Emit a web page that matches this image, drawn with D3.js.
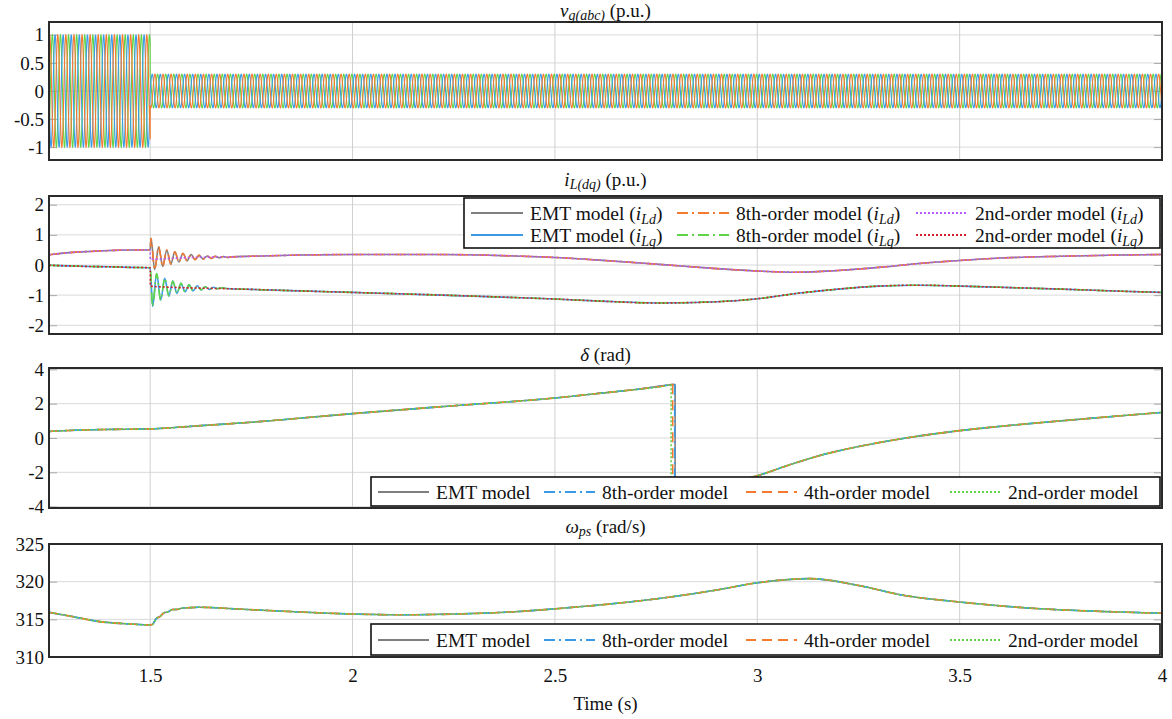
<!DOCTYPE html>
<html><head><meta charset="utf-8">
<script src="https://cdn.jsdelivr.net/npm/d3@7"></script>
<style>body{margin:0;background:#fff} svg text{font-family:'Liberation Serif','Noto Serif','FreeSerif','Nimbus Roman','Times New Roman','DejaVu Serif',serif;fill:#111}</style>
</head><body><svg id="c" width="1172" height="719"></svg>
<script>
// ---------------- DATA ----------------
const timeDomain = [1.25, 4];
const xTicks = [1.5, 2, 2.5, 3, 3.5, 4];
const xTickLabels = ["1.5", "2", "2.5", "3", "3.5", "4"];

// Panel 1: three-phase grid voltage (read amplitude per segment, grid frequency)
const vgFreqHz = 50;
const vgSegStart = [1.25, 1.5];
const vgSegEnd = [1.5, 4];
const vgSegAmp = [1.0, 0.3];
const vgPhaseDeg = [120, 0, -120];
const vgTicks = [-1, -0.5, 0, 0.5, 1];
const vgTickLabels = ["-1", "-0.5", "0", "0.5", "1"];

// Panel 2: dq currents
const iTicks = [-2, -1, 0, 1, 2];
const iTickLabels = ["-2", "-1", "0", "1", "2"];
const iLdPreT = [1.25, 1.3, 1.35, 1.4, 1.45, 1.5];
const iLdPreV = [0.34, 0.41, 0.45, 0.48, 0.5, 0.5];
const iLqPreV = [-0.01, -0.03, -0.05, -0.06, -0.08, -0.09];
const iLdEmtOscT = [1.502, 1.511, 1.521, 1.531, 1.541, 1.551, 1.561, 1.571, 1.581, 1.591, 1.601, 1.611, 1.621, 1.631, 1.641, 1.651, 1.661, 1.671, 1.681, 1.691, 1.70];
const iLdEmtOscV = [0.89, -0.15, 0.6, -0.05, 0.5, 0.03, 0.44, 0.1, 0.39, 0.14, 0.35, 0.18, 0.32, 0.2, 0.3, 0.22, 0.29, 0.24, 0.28, 0.25, 0.27];
const iLqEmtOscT = [1.506, 1.516, 1.526, 1.536, 1.546, 1.556, 1.566, 1.576, 1.586, 1.596, 1.606, 1.616, 1.626, 1.636, 1.646, 1.656, 1.666, 1.676, 1.69];
const iLqEmtOscV = [-1.37, -0.28, -1.17, -0.44, -1.03, -0.53, -0.94, -0.61, -0.89, -0.66, -0.86, -0.69, -0.83, -0.72, -0.81, -0.74, -0.79, -0.76, -0.78];
const iL2ndStepT = [1.5005, 1.55, 1.6, 1.7];
const iLd2ndStepV = [0.19, 0.22, 0.25, 0.27];
const iLq2ndStepV = [-0.7, -0.74, -0.76, -0.79];
const iLPostT = [1.75, 1.87, 2.0, 2.2, 2.4, 2.5, 2.6, 2.75, 2.9, 3.0, 3.1, 3.2, 3.3, 3.4, 3.5, 3.6, 3.75, 3.9, 4.0];
const iLdPostV = [0.29, 0.33, 0.35, 0.35, 0.3, 0.25, 0.17, 0.03, -0.12, -0.2, -0.24, -0.18, -0.08, 0.05, 0.15, 0.23, 0.29, 0.33, 0.35];
const iLqPostV = [-0.81, -0.86, -0.91, -0.99, -1.08, -1.13, -1.19, -1.26, -1.22, -1.12, -0.94, -0.8, -0.7, -0.67, -0.7, -0.74, -0.8, -0.87, -0.91];

// Panel 3: delta
const dTicks = [-4, -2, 0, 2, 4];
const dTickLabels = ["-4", "-2", "0", "2", "4"];
const deltaPreT = [1.25, 1.3, 1.4, 1.5, 1.6, 1.75, 2.0, 2.25, 2.5, 2.6, 2.7, 2.78];
const deltaPreV = [0.38, 0.44, 0.5, 0.53, 0.68, 0.92, 1.42, 1.88, 2.33, 2.58, 2.83, 3.08];
const deltaWrapTop = 3.13, deltaWrapBottom = -3.15;
const deltaPostT = [2.8, 2.9, 3.0, 3.075, 3.15, 3.25, 3.36, 3.5, 3.6, 3.75, 3.9, 4.0];
const deltaPostV = [-3.1, -2.7, -2.2, -1.6, -1.05, -0.5, -0.03, 0.43, 0.68, 1.0, 1.3, 1.49];
const deltaWrapT = { emt: 2.797, o8: 2.796, o4: 2.791, o2: 2.787 };

// Panel 4: omega
const wTicks = [310, 315, 320, 325];
const wTickLabels = ["310", "315", "320", "325"];
const omegaT = [1.25, 1.3, 1.375, 1.45, 1.5, 1.505, 1.515, 1.525, 1.535, 1.545, 1.555, 1.565, 1.58, 1.6, 1.62, 1.73, 1.9, 2.0, 2.12, 2.25, 2.4, 2.5, 2.61, 2.79, 2.9, 3.0, 3.13, 3.25, 3.36, 3.5, 3.7, 3.88, 4.0];
const omegaV = [315.93, 315.45, 314.7, 314.38, 314.25, 314.3, 315.1, 315.4, 315.9, 316.0, 316.3, 316.3, 316.5, 316.55, 316.6, 316.33, 315.9, 315.7, 315.6, 315.7, 316.0, 316.4, 316.9, 318.0, 318.9, 319.85, 320.4, 319.5, 318.2, 317.3, 316.4, 316.0, 315.8];

// ---------------- STYLE ----------------
const C = { gray: "#7f7f7f", blue: "#3a9ae6", orange: "#f47a2f", green: "#5fd448", purple: "#b45cf5", red: "#d3202a" };
const DASHDOT = "11,4,2,4", DASHED = "10,6", DOTTED = "2,2";
const SERIF = "'Liberation Serif','Noto Serif','FreeSerif','Nimbus Roman','Times New Roman','DejaVu Serif',serif";
const TICK_FONT = 19, TITLE_FONT = 19, LEG_FONT = 19.5, SUB_FONT = 14;

const svg = d3.select("#c");
const x = d3.scaleLinear().domain(timeDomain).range([49, 1162]);

function zip(ts, vs) { return ts.map((t, i) => [t, vs[i]]); }

function makePanel(id, top, bottom, domain, ticks, labels) {
  const y = d3.scaleLinear().domain(domain).range([bottom, top]);
  const g = svg.append("g");
  g.append("g").selectAll("line").data(ticks.filter(v => y(v) > top + 1 && y(v) < bottom - 1)).join("line")
    .attr("x1", x.range()[0]).attr("x2", x.range()[1]).attr("y1", d => y(d)).attr("y2", d => y(d))
    .attr("stroke", "#dadada").attr("stroke-width", 1);
  g.append("g").selectAll("line").data(xTicks.filter(v => v < timeDomain[1])).join("line")
    .attr("x1", d => x(d)).attr("x2", d => x(d)).attr("y1", top).attr("y2", bottom)
    .attr("stroke", "#d0d0d0").attr("stroke-width", 1);
  const tl = g.append("g").attr("transform", `translate(${x.range()[0]},0)`)
    .call(d3.axisRight(y).tickValues(ticks).tickSize(8).tickFormat(""));
  tl.select(".domain").remove(); tl.selectAll("line").attr("stroke", "#aaa");
  const tr = g.append("g").attr("transform", `translate(${x.range()[1]},0)`)
    .call(d3.axisLeft(y).tickValues(ticks).tickSize(8).tickFormat(""));
  tr.select(".domain").remove(); tr.selectAll("line").attr("stroke", "#aaa");
  const la = g.append("g").attr("transform", `translate(${x.range()[0]},0)`)
    .call(d3.axisLeft(y).tickValues(ticks).tickSize(0).tickPadding(5).tickFormat((d, i) => labels[i]));
  la.attr("font-family", SERIF);
  la.select(".domain").remove();
  la.selectAll("text").attr("font-size", TICK_FONT).attr("fill", "#111");
  svg.append("clipPath").attr("id", "clip" + id).append("rect")
    .attr("x", x.range()[0]).attr("y", top).attr("width", x.range()[1] - x.range()[0]).attr("height", bottom - top);
  const plot = svg.append("g").attr("clip-path", `url(#clip${id})`);
  const frame = () => svg.append("rect").attr("x", x.range()[0]).attr("y", top)
    .attr("width", x.range()[1] - x.range()[0]).attr("height", bottom - top)
    .attr("fill", "none").attr("stroke", "#2a2a2a").attr("stroke-width", 2);
  return { y, plot, top, bottom, frame };
}

function drawLine(P, pts, color, dash, width, curve) {
  const line = d3.line().x(d => x(d[0])).y(d => P.y(d[1])).curve(curve || d3.curveMonotoneX);
  P.plot.append("path").attr("d", line(pts)).attr("fill", "none").attr("stroke", color)
    .attr("stroke-width", width || 1.5).attr("stroke-dasharray", dash || null);
}

function title(cx, yb, html) {
  svg.append("text").attr("x", cx).attr("y", yb).attr("text-anchor", "middle").attr("font-size", TITLE_FONT).html(html);
}
const cx = (x.range()[0] + x.range()[1]) / 2;
const subT = s => `<tspan font-style="italic" font-size="${SUB_FONT}" dy="3">${s}</tspan>`;

// ---------- Panel 1 ----------
const P1 = makePanel(1, 22, 160, [-1.23, 1.23], vgTicks, vgTickLabels);
const vgColors = [C.green, C.blue, C.orange];
vgPhaseDeg.forEach((ph, k) => {
  const pts = [];
  vgSegStart.forEach((s, j) => {
    for (let t = s; t <= vgSegEnd[j] + 1e-9; t += 0.0004) {
      pts.push([t, vgSegAmp[j] * Math.sin(2 * Math.PI * vgFreqHz * t + ph * Math.PI / 180)]);
    }
  });
  drawLine(P1, pts, vgColors[k], null, 1.1, d3.curveLinear);
});
P1.frame();
title(cx, 17, '<tspan font-style="italic">v</tspan>' + subT("g(abc)") + '<tspan dy="-3"> (p.u.)</tspan>');

// ---------- Panel 2 ----------
const P2 = makePanel(2, 196, 334, [-2.29, 2.29], iTicks, iTickLabels);
const iLdPre = zip(iLdPreT, iLdPreV), iLqPre = zip(iLdPreT, iLqPreV);
const iLdEmt = iLdPre.concat(zip(iLdEmtOscT, iLdEmtOscV), zip(iLPostT, iLdPostV));
const iLqEmt = iLqPre.concat(zip(iLqEmtOscT, iLqEmtOscV), zip(iLPostT, iLqPostV));
const iLd2 = iLdPre.concat(zip(iL2ndStepT, iLd2ndStepV), zip(iLPostT, iLdPostV));
const iLq2 = iLqPre.concat(zip(iL2ndStepT, iLq2ndStepV), zip(iLPostT, iLqPostV));
drawLine(P2, iLdEmt, C.gray, null, 1.6);
drawLine(P2, iLqEmt, C.blue, null, 1.6);
drawLine(P2, iLdEmt, C.orange, DASHDOT, 1.6);
drawLine(P2, iLqEmt, C.green, DASHDOT, 1.6);
drawLine(P2, iLd2, C.purple, DOTTED, 1.6);
drawLine(P2, iLq2, C.red, DOTTED, 1.6);
P2.frame();
title(cx, 186, '<tspan font-style="italic">i</tspan>' + subT("L(dq)") + '<tspan dy="-3"> (p.u.)</tspan>');

// ---------- Panel 3 ----------
const P3 = makePanel(3, 368, 508, [-4.08, 4.08], dTicks, dTickLabels);
function drawDelta(wt, color, dash) {
  drawLine(P3, zip(deltaPreT, deltaPreV).concat([[wt, deltaWrapTop]]), color, dash, 1.6);
  drawLine(P3, [[wt, deltaWrapTop], [wt, deltaWrapBottom]], color, dash, 1.6, d3.curveLinear);
  drawLine(P3, [[wt, deltaWrapBottom]].concat(zip(deltaPostT, deltaPostV)), color, dash, 1.6);
}
drawDelta(deltaWrapT.emt, C.gray, null);
drawDelta(deltaWrapT.o8, C.blue, DASHDOT);
drawDelta(deltaWrapT.o4, C.orange, DASHED);
drawDelta(deltaWrapT.o2, C.green, DOTTED);
P3.frame();
title(cx, 361, '<tspan font-style="italic">δ</tspan> (rad)');

// ---------- Panel 4 ----------
const P4 = makePanel(4, 544, 657, [310, 325], wTicks, wTickLabels);
const omega = zip(omegaT, omegaV);
drawLine(P4, omega, C.gray, null, 1.6);
drawLine(P4, omega, C.blue, DASHDOT, 1.6);
drawLine(P4, omega, C.orange, DASHED, 1.6);
drawLine(P4, omega, C.green, DOTTED, 1.6);
P4.frame();
title(cx, 533, '<tspan font-style="italic">ω</tspan>' + subT("ps") + '<tspan dy="-3"> (rad/s)</tspan>');

// x axis labels
const xa = svg.append("g").attr("transform", "translate(0,657)")
  .call(d3.axisBottom(x).tickValues(xTicks).tickSize(0).tickPadding(12).tickFormat((d, i) => xTickLabels[i]));
xa.attr("font-family", SERIF);
xa.select(".domain").remove();
xa.selectAll("text").attr("font-size", TICK_FONT).attr("fill", "#111");
svg.append("text").attr("x", cx).attr("y", 710).attr("text-anchor", "middle").attr("font-size", TITLE_FONT).text("Time (s)");

// ---------- Legends ----------
const sub = s => `(<tspan font-style="italic">i</tspan><tspan font-style="italic" font-size="${SUB_FONT}" dy="4">${s}</tspan><tspan dy="-4">)</tspan>`;
function legend(box, rows, sampleLen) {
  const g = svg.append("g");
  g.append("rect").attr("x", box.x).attr("y", box.y).attr("width", box.w).attr("height", box.h)
    .attr("fill", "#fff").attr("stroke", "#111").attr("stroke-width", 1.6);
  rows.forEach((row, r) => {
    const yc = box.y + box.rowY[r];
    row.forEach((e, c) => {
      const x0 = box.cols[c];
      g.append("line").attr("x1", x0).attr("x2", x0 + sampleLen).attr("y1", yc).attr("y2", yc)
        .attr("stroke", e.color).attr("stroke-width", 1.8).attr("stroke-dasharray", e.dash || null);
      g.append("text").attr("x", x0 + sampleLen + 7).attr("y", yc + 6.5).attr("font-size", LEG_FONT).html(e.label);
    });
  });
}
legend({ x: 464, y: 198, w: 696, h: 50, rowY: [15, 37], cols: [471, 677, 916] }, [
  [{ color: C.gray, label: "EMT model " + sub("Ld") }, { color: C.orange, dash: DASHDOT, label: "8th-order model " + sub("Ld") }, { color: C.purple, dash: DOTTED, label: "2nd-order model " + sub("Ld") }],
  [{ color: C.blue, label: "EMT model " + sub("Lq") }, { color: C.green, dash: DASHDOT, label: "8th-order model " + sub("Lq") }, { color: C.red, dash: DOTTED, label: "2nd-order model " + sub("Lq") }]
], 52);
const modelRow = [
  { color: C.gray, label: "EMT model" }, { color: C.blue, dash: DASHDOT, label: "8th-order model" },
  { color: C.orange, dash: DASHED, label: "4th-order model" }, { color: C.green, dash: DOTTED, label: "2nd-order model" }];
legend({ x: 371, y: 477, w: 789, h: 29, rowY: [15], cols: [378, 544, 746, 950] }, [modelRow], 51);
legend({ x: 371, y: 624, w: 789, h: 31, rowY: [16], cols: [378, 544, 746, 950] }, [modelRow], 51);
</script></body></html>
